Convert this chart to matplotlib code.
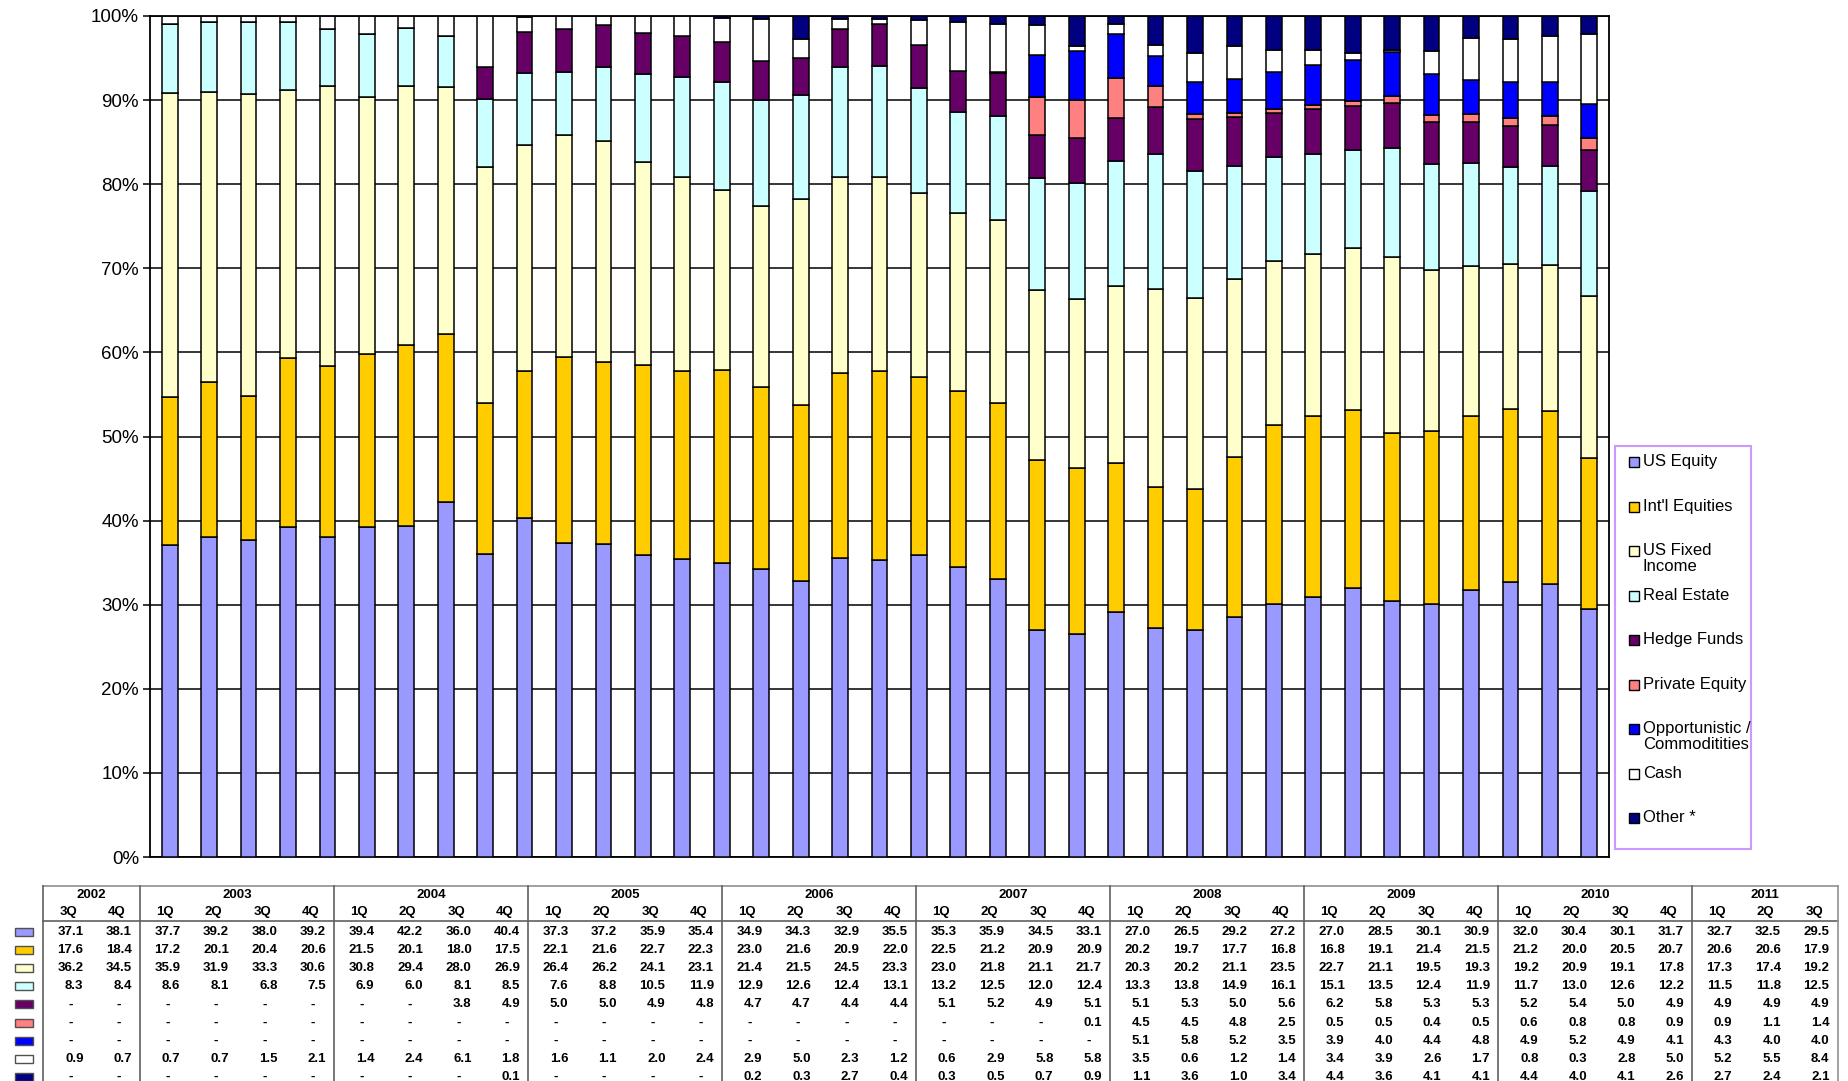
import matplotlib.pyplot as plt
from matplotlib.patches import Rectangle
import numpy as np

plt.rcParams['font.family'] = ['Liberation Sans', 'DejaVu Sans']

years = ['2002', '2003', '2004', '2005', '2006', '2007', '2008', '2009', '2010', '2011']
quarters = ['3Q', '4Q'] + ['1Q', '2Q', '3Q', '4Q'] * 8 + ['1Q', '2Q', '3Q']
year_cols = [2, 4, 4, 4, 4, 4, 4, 4, 4, 3]

names = ['US Equity', "Int'l Equities", 'US Fixed\nIncome', 'Real Estate', 'Hedge Funds',
         'Private Equity', 'Opportunistic /\nCommoditities', 'Cash', 'Other *']
colors = ['#9999FF', '#FFCC00', '#FFFFCC', '#CCFFFF', '#660066',
          '#FF8080', '#0000FF', '#FFFFFF', '#000080']

us_equity = [37.1, 38.1, 37.7, 39.2, 38.0, 39.2, 39.4, 42.2, 36.0, 40.4, 37.3, 37.2, 35.9, 35.4,
             34.9, 34.3, 32.9, 35.5, 35.3, 35.9, 34.5, 33.1, 27.0, 26.5, 29.2, 27.2, 27.0, 28.5,
             30.1, 30.9, 32.0, 30.4, 30.1, 31.7, 32.7, 32.5, 29.5]
intl_eq = [17.6, 18.4, 17.2, 20.1, 20.4, 20.6, 21.5, 20.1, 18.0, 17.5, 22.1, 21.6, 22.7, 22.3,
           23.0, 21.6, 20.9, 22.0, 22.5, 21.2, 20.9, 20.9, 20.2, 19.7, 17.7, 16.8, 16.8, 19.1,
           21.4, 21.5, 21.2, 20.0, 20.5, 20.7, 20.6, 20.6, 17.9]
us_fixed = [36.2, 34.5, 35.9, 31.9, 33.3, 30.6, 30.8, 29.4, 28.0, 26.9, 26.4, 26.2, 24.1, 23.1,
            21.4, 21.5, 24.5, 23.3, 23.0, 21.8, 21.1, 21.7, 20.3, 20.2, 21.1, 23.5, 22.7, 21.1,
            19.5, 19.3, 19.2, 20.9, 19.1, 17.8, 17.3, 17.4, 19.2]
real_estate = [8.3, 8.4, 8.6, 8.1, 6.8, 7.5, 6.9, 6.0, 8.1, 8.5, 7.6, 8.8, 10.5, 11.9,
               12.9, 12.6, 12.4, 13.1, 13.2, 12.5, 12.0, 12.4, 13.3, 13.8, 14.9, 16.1, 15.1, 13.5,
               12.4, 11.9, 11.7, 13.0, 12.6, 12.2, 11.5, 11.8, 12.5]
hedge = [None] * 8 + [3.8, 4.9, 5.0, 5.0, 4.9, 4.8, 4.7, 4.7, 4.4, 4.4, 5.1, 5.2, 4.9, 5.1,
                      5.1, 5.3, 5.0, 5.6, 6.2, 5.8, 5.3, 5.3, 5.2, 5.4, 5.0, 4.9, 4.9, 4.9, 4.9]
private_eq = [None] * 21 + [0.1, 4.5, 4.5, 4.8, 2.5, 0.5, 0.5, 0.4, 0.5, 0.6, 0.8, 0.8, 0.9,
                            0.9, 1.1, 1.4]
opportunistic = [None] * 22 + [5.1, 5.8, 5.2, 3.5, 3.9, 4.0, 4.4, 4.8, 4.9, 5.2, 4.9, 4.1,
                               4.3, 4.0, 4.0]
cash = [0.9, 0.7, 0.7, 0.7, 1.5, 2.1, 1.4, 2.4, 6.1, 1.8, 1.6, 1.1, 2.0, 2.4, 2.9, 5.0, 2.3,
        1.2, 0.6, 2.9, 5.8, 5.8, 3.5, 0.6, 1.2, 1.4, 3.4, 3.9, 2.6, 1.7, 0.8, 0.3, 2.8, 5.0,
        5.2, 5.5, 8.4]
other = [None] * 9 + [0.1] + [None] * 4 + [0.2, 0.3, 2.7, 0.4, 0.3, 0.5, 0.7, 0.9, 1.1, 3.6,
                                          1.0, 3.4, 4.4, 3.6, 4.1, 4.1, 4.4, 4.0, 4.1, 2.6,
                                          2.7, 2.4, 2.1]

series = [us_equity, intl_eq, us_fixed, real_estate, hedge, private_eq, opportunistic, cash, other]

W, H = 1849, 1081
fig = plt.figure(figsize=(W / 100, H / 100), dpi=100)

# main chart (100% stacked)
ax = fig.add_axes([150 / W, 1 - 857 / H, (1609 - 150) / W, (857 - 16) / H])
vals = np.array([[0.0 if v is None else v for v in s] for s in series])
pct = vals / vals.sum(axis=0) * 100
x = np.arange(len(quarters))
bottom = np.zeros(len(quarters))
for i in range(len(series)):
    ax.bar(x, pct[i], 0.4, bottom=bottom, color=colors[i], edgecolor='black',
           linewidth=1.1, zorder=3)
    bottom += pct[i]

ax.set_xlim(-0.5, len(quarters) - 0.5)
ax.set_ylim(0, 100)
ax.set_yticks(np.arange(0, 101, 10))
ax.set_yticklabels(['%d%%' % v for v in range(0, 101, 10)], fontsize=13.5)
ax.set_xticks([])
ax.yaxis.grid(True, color='black', linewidth=1.1, zorder=0)
ax.tick_params(axis='y', direction='out', length=5, width=1.1, pad=3)
for sp in ax.spines.values():
    sp.set_linewidth(1.3)
    sp.set_color('black')

# overlay in pixel coordinates for legend and table
ov = fig.add_axes([0, 0, 1, 1])
ov.set_xlim(0, W)
ov.set_ylim(H, 0)
ov.axis('off')

# legend
ov.add_patch(Rectangle((1615, 446), 136, 403, fill=False, edgecolor='#CC99FF', linewidth=1.5))
for i, nm in enumerate(names):
    y = 462 + i * 44.5
    ov.add_patch(Rectangle((1629, y - 5), 10, 10, facecolor=colors[i], edgecolor='black',
                           linewidth=1.0))
    ov.text(1643, y - 8, nm, fontsize=12, va='top', ha='left', linespacing=1.12)

# data table
x0, cw = 43, 48.5
top = 886
right = x0 + cw * len(quarters)
lc = '#606060'
ov.plot([x0, right], [top, top], color='#909090', lw=1.2)
ov.plot([x0, right], [921, 921], color=lc, lw=1.2)
ov.plot([x0, x0], [top, H], color=lc, lw=1.2)
ov.plot([right, right], [top, H], color='#909090', lw=1.2)

fnt = ['Liberation Sans Narrow', 'Liberation Sans', 'DejaVu Sans']
fs = 9.5
c = 0
for yr, n in zip(years, year_cols):
    ov.text(x0 + cw * (c + n / 2), 895, yr, ha='center', va='center', fontsize=fs,
            fontweight='bold', family=fnt)
    c += n
    if c < len(quarters):
        ov.plot([x0 + cw * c] * 2, [top, H], color=lc, lw=1.2)

for j, q in enumerate(quarters):
    ov.text(x0 + cw * (j + 0.5) + 1, 912, q, ha='center', va='center', fontsize=fs,
            fontweight='bold', family=fnt)

for i, s in enumerate(series):
    y = 932 + i * 18.1
    ov.add_patch(Rectangle((15, y - 4), 18, 8, facecolor=colors[i], edgecolor='#505050',
                           linewidth=1.0))
    for j, v in enumerate(s):
        if v is None:
            ov.text(x0 + cw * (j + 0.5) + 3, y, '-', ha='center', va='center', fontsize=fs,
                    fontweight='bold', family=fnt)
        else:
            ov.text(x0 + cw * (j + 1) - 8, y, '%.1f' % v, ha='right', va='center',
                    fontsize=fs, fontweight='bold', family=fnt)

fig.savefig('out.png', dpi=100)
